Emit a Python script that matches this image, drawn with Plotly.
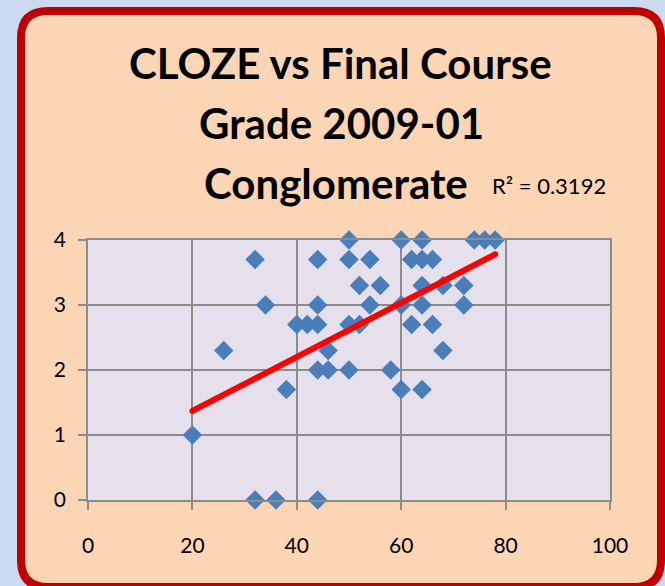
import plotly.graph_objects as go

# ---- data ----
cloze = [20, 26, 32, 32, 34, 36, 38, 40, 42, 44, 44, 44, 44, 44, 46, 46,
         50, 50, 50, 50, 52, 52, 54, 54, 56, 58, 60, 60, 60, 62, 62,
         64, 64, 64, 64, 64, 66, 66, 68, 68, 72, 72, 74, 76, 78]
grade = [1.0, 2.3, 3.7, 0.0, 3.0, 0.0, 1.7, 2.7, 2.7, 3.7, 3.0, 2.7, 2.0, 0.0, 2.3, 2.0,
         4.0, 3.7, 2.7, 2.0, 3.3, 2.7, 3.7, 3.0, 3.3, 2.0, 4.0, 3.0, 1.7, 3.7, 2.7,
         4.0, 3.7, 3.3, 3.0, 1.7, 3.7, 2.7, 3.3, 2.3, 3.3, 3.0, 4.0, 4.0, 4.0]
trend_x = [20, 78]
trend_y = [1.37, 3.78]
r2_text = "R² = 0.3192"
title_lines = ["CLOZE vs Final Course", "Grade 2009-01", "Conglomerate"]
x_ticks = [0, 20, 40, 60, 80, 100]
y_ticks = [0, 1, 2, 3, 4]

# ---- layout geometry (pixels) ----
W, H = 665, 586
PL, PR, PT, PB = 88, 610, 240, 500


def fx(p):
    return (p - PL) / (PR - PL)


def fy(p):
    return (PB - p) / (PB - PT)


def rounded_path(x0, y0, x1, y1, r):
    pts = [
        ("M", [(x0 + r, y0)]),
        ("L", [(x1 - r, y0)]),
        ("Q", [(x1, y0), (x1, y0 + r)]),
        ("L", [(x1, y1 - r)]),
        ("Q", [(x1, y1), (x1 - r, y1)]),
        ("L", [(x0 + r, y1)]),
        ("Q", [(x0, y1), (x0, y1 - r)]),
        ("L", [(x0, y0 + r)]),
        ("Q", [(x0, y0), (x0 + r, y0)]),
    ]
    s = ""
    for cmd, ps in pts:
        s += cmd + " ".join(f"{fx(a):.5f},{fy(b):.5f}" for a, b in ps) + " "
    return s + "Z"


FONT = "Lato"

fig = go.Figure()
fig.add_trace(go.Scatter(
    x=cloze, y=grade, mode="markers",
    marker=dict(symbol="diamond", size=15, color="#4A7EBB"),
    cliponaxis=False, showlegend=False, hoverinfo="x+y",
))
fig.add_trace(go.Scatter(
    x=trend_x, y=trend_y, mode="lines+markers",
    line=dict(color="#FF0000", width=6),
    marker=dict(color="#FF0000", size=6, symbol="circle"),
    cliponaxis=False, showlegend=False, hoverinfo="skip",
))

shapes = [
    dict(type="path", xref="paper", yref="paper", layer="below",
         path=rounded_path(21, 11, 661, 587, 27),
         fillcolor="#FCD5B5", line=dict(color="#C00000", width=8)),
    dict(type="rect", xref="paper", yref="paper", layer="below",
         x0=0, x1=1, y0=0, y1=1, fillcolor="#E6E0EC", line=dict(width=0)),
]

annotations = []
for line, ycen, xcen in zip(title_lines, [63, 123, 183], [340, 341, 336]):
    annotations.append(dict(
        text=f"<b>{line}</b>", xref="paper", yref="paper",
        x=fx(xcen), y=fy(ycen), xanchor="center", yanchor="middle",
        showarrow=False, font=dict(family=FONT, size=42, color="#000000"),
    ))
annotations.append(dict(
    text=r2_text, xref="paper", yref="paper",
    x=fx(490), y=fy(185), xanchor="left", yanchor="middle",
    showarrow=False, font=dict(family=FONT, size=22, color="#000000"),
))

fig.update_layout(
    width=W, height=H,
    margin=dict(l=PL, r=W - PR, t=PT, b=H - PB, pad=0),
    paper_bgcolor="#CCDAF1",
    plot_bgcolor="rgba(0,0,0,0)",
    shapes=shapes,
    annotations=annotations,
    font=dict(family=FONT, size=21, color="#000000"),
    showlegend=False,
)
axis_common = dict(
    showgrid=True, gridcolor="#8C8C8C", gridwidth=1.5,
    showline=True, mirror=True, linecolor="#8C8C8C", linewidth=1.5,
    ticks="outside", ticklen=8, tickwidth=1.5, tickcolor="#8C8C8C",
    zeroline=False, tickfont=dict(family=FONT, size=21, color="#000000"),
)
fig.update_xaxes(range=[0, 100], tickvals=x_ticks, ticklabelstandoff=18, **axis_common)
fig.update_yaxes(range=[0, 4], tickvals=y_ticks, ticklabelstandoff=8, **axis_common)

fig.write_html("out.html", config={"displayModeBar": False},
               post_script="document.body.style.margin='0';")
